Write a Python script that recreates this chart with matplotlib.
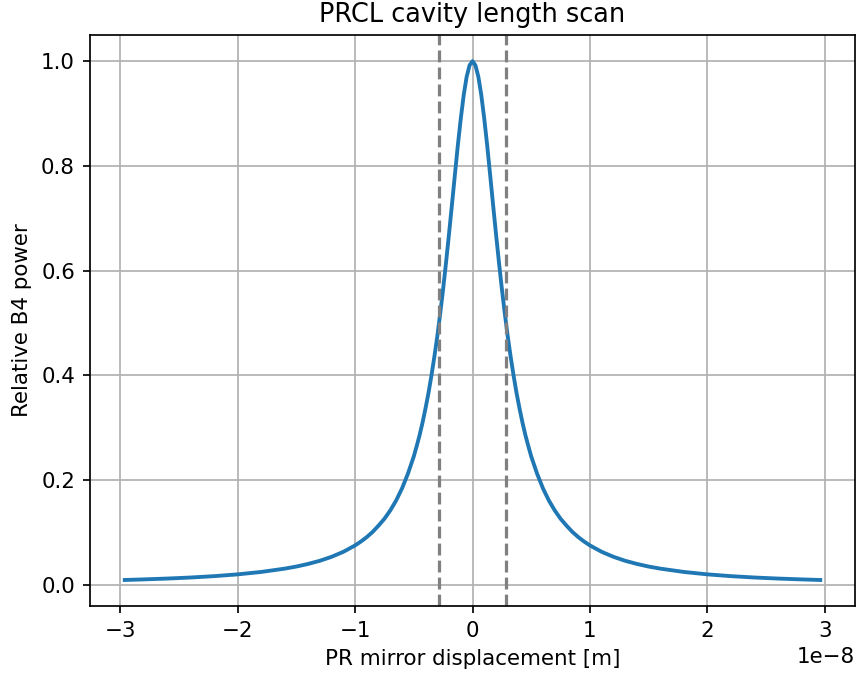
import matplotlib
matplotlib.use("Agg")
import matplotlib.pyplot as plt
import numpy as np

# Half-curve (x in units of 1e-8 m), mirrored about 0
x_half = [0.0, 0.025, 0.05, 0.075, 0.1, 0.125, 0.15, 0.175, 0.2, 0.225, 0.25, 0.275, 0.3,
          0.325, 0.35, 0.375, 0.4, 0.425, 0.45, 0.475, 0.5, 0.55, 0.6, 0.65, 0.7, 0.75,
          0.8, 0.85, 0.9, 0.95, 1.0, 1.1, 1.2, 1.3, 1.4, 1.5, 1.6, 1.8, 2.0, 2.2, 2.4,
          2.6, 2.8, 2.96]
y_half = [1.0, 0.992, 0.970, 0.935, 0.890, 0.839, 0.783, 0.726, 0.670, 0.616, 0.565,
          0.518, 0.474, 0.435, 0.399, 0.366, 0.337, 0.310, 0.286, 0.265, 0.245, 0.212,
          0.184, 0.161, 0.142, 0.126, 0.113, 0.101, 0.0911, 0.0826, 0.0751, 0.0629,
          0.0534, 0.0458, 0.0398, 0.0348, 0.0308, 0.0245, 0.0199, 0.0165, 0.0139,
          0.0119, 0.0103, 0.0092]
fwhm_edges = [-0.286, 0.286]
scale = 1e-8

x = np.concatenate([-np.array(x_half[:0:-1]), np.array(x_half)]) * scale
y = np.concatenate([np.array(y_half[:0:-1]), np.array(y_half)])

dpi = 154
fig = plt.figure(figsize=(857 / dpi, 677 / dpi), dpi=dpi)
ax = fig.add_axes([0.105, 0.105, 0.8927, 0.843])
ax.plot(x, y, color="#1f77b4", linewidth=1.8)
for e in fwhm_edges:
    ax.axvline(e * scale, color="grey", linestyle="--", linewidth=1.5)
ax.grid(True)
ax.set_title("PRCL cavity length scan")
ax.set_xlabel("PR mirror displacement [m]")
ax.set_ylabel("Relative B4 power")
fig.savefig("out.png", dpi=dpi)
